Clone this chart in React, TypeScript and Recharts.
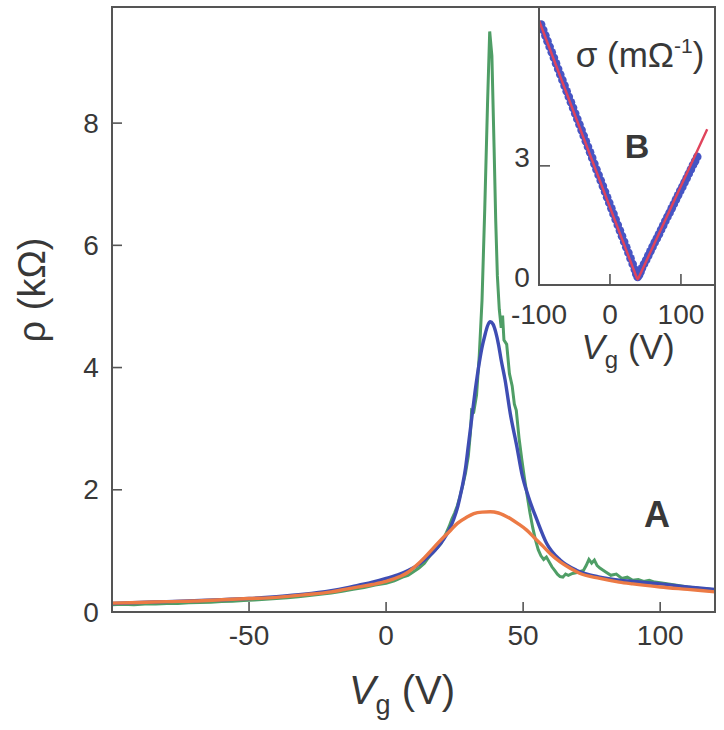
import React from 'react';
import { LineChart, Line, XAxis, YAxis } from 'recharts';

const FONT = '"Liberation Sans", Arial, Helvetica, sans-serif';
const TEXT = '#383838';
const AXIS = '#555555';

// Panel A: resistivity rho (kOhm) vs gate voltage Vg (V)
const mainTicksX = [-50, 0, 50, 100];
const mainTicksY = [0, 2, 4, 6, 8];

const measuredRho: [number, number][] = [
  [-100, 0.12], [-96, 0.125], [-92, 0.12], [-88, 0.13], [-84, 0.13], [-80, 0.14], [-76, 0.14], [-72, 0.15],
  [-68, 0.155], [-64, 0.16], [-60, 0.17], [-56, 0.175], [-52, 0.19], [-48, 0.195], [-44, 0.21], [-40, 0.22],
  [-36, 0.235], [-32, 0.25], [-28, 0.27], [-24, 0.29], [-20, 0.31], [-16, 0.34], [-12, 0.37], [-8, 0.4],
  [-4, 0.44], [0, 0.47], [3, 0.51], [6, 0.57], [8, 0.6], [10, 0.66], [12, 0.72], [14, 0.8], [15, 0.86],
  [16, 0.92], [18, 1.02], [20, 1.12], [22, 1.3], [23, 1.4], [24, 1.52], [25, 1.62], [26, 1.74], [27, 1.9],
  [28, 2.08], [29, 2.28], [30, 2.55], [30.8, 2.95], [31.2, 3.3], [32, 3.28], [33, 3.55], [34, 4.2], [35, 5.1],
  [36, 6.6], [37, 8.3], [37.8, 9.5], [38.6, 9.1], [39.4, 7.6], [40, 6.4], [40.6, 5.5], [41.3, 4.95], [42, 4.65],
  [42.5, 4.85], [43, 4.45], [44, 4.38], [45, 3.9], [46, 3.7], [46.8, 3.4], [47.5, 3.3], [48.5, 2.85], [49.5, 2.5],
  [50.5, 2.18], [51.5, 1.9], [52.5, 1.62], [53.5, 1.38], [54.5, 1.18], [55.5, 1.02], [56.5, 0.92], [57.5, 0.86],
  [58.5, 0.9], [59.5, 0.82], [60.5, 0.74], [61.5, 0.68], [62.5, 0.62], [63.5, 0.58], [64.5, 0.57], [65.5, 0.62],
  [66.5, 0.6], [68, 0.63], [70, 0.65], [72, 0.68], [73, 0.76], [74, 0.86], [75, 0.8], [76, 0.85], [77, 0.76],
  [78, 0.72], [80, 0.66], [82, 0.6], [84, 0.62], [86, 0.55], [88, 0.57], [90, 0.52], [92, 0.53], [94, 0.5],
  [96, 0.52], [98, 0.49], [100, 0.48], [103, 0.46], [106, 0.44], [110, 0.41], [114, 0.39], [117, 0.38], [120, 0.36],
];

const sharpFitRho: [number, number][] = [
  [-100, 0.14], [-90, 0.155], [-80, 0.17], [-70, 0.185], [-60, 0.2], [-50, 0.22], [-40, 0.25], [-30, 0.29],
  [-20, 0.35], [-15, 0.39], [-10, 0.44], [-5, 0.49], [0, 0.55], [5, 0.62], [8, 0.68], [11, 0.75], [14, 0.85],
  [17, 0.97], [19, 1.07], [21, 1.19], [23, 1.34], [24.6, 1.51], [26, 1.7], [27, 1.89], [28, 2.1], [29, 2.36],
  [30, 2.72], [31, 3.08], [32.5, 3.62], [34, 4.08], [35, 4.33], [36, 4.52], [37, 4.68], [38, 4.75], [39, 4.71],
  [40, 4.58], [41, 4.38], [42, 4.12], [43.4, 3.8], [45.3, 3.25], [47.7, 2.71], [49.5, 2.27], [51.9, 1.89],
  [55, 1.51], [58.6, 1.12], [63.5, 0.85], [69.6, 0.68], [78, 0.57], [85, 0.52], [90, 0.5], [100, 0.46],
  [110, 0.41], [120, 0.37],
];

const broadFitRho: [number, number][] = [
  [-100, 0.145], [-90, 0.155], [-80, 0.17], [-70, 0.18], [-60, 0.2], [-50, 0.22], [-40, 0.24], [-30, 0.28],
  [-20, 0.33], [-15, 0.37], [-10, 0.41], [-5, 0.45], [0, 0.5], [5, 0.58], [8, 0.65], [11, 0.76], [14, 0.89],
  [17.3, 1.05], [20, 1.18], [23.4, 1.33], [26, 1.45], [29.4, 1.55], [32, 1.61], [35, 1.635], [38, 1.64], [41, 1.62],
  [45.3, 1.53], [48, 1.45], [51.3, 1.34], [54, 1.22], [57.4, 1.07], [60, 0.95], [63.5, 0.82], [67, 0.72],
  [70.8, 0.63], [78, 0.55], [85, 0.49], [90, 0.46], [100, 0.41], [110, 0.37], [120, 0.33],
];

// Panel B: conductivity sigma (mOhm^-1) vs Vg (V)
const insetTicksX = [-100, 0, 100];
const insetTicksY = [0, 3];

const sigmaPoints: [number, number][] = [
  [-97, 6.56], [-94, 6.42], [-91, 6.28], [-88, 6.14], [-85, 6.0], [-82, 5.86], [-79, 5.72], [-76, 5.58],
  [-73, 5.44], [-70, 5.3], [-67, 5.16], [-64, 5.02], [-61, 4.88], [-58, 4.74], [-55, 4.6], [-52, 4.46],
  [-49, 4.32], [-46, 4.18], [-43, 4.04], [-40, 3.9], [-37, 3.76], [-34, 3.62], [-31, 3.48], [-28, 3.34],
  [-25, 3.2], [-22, 3.05], [-19, 2.91], [-16, 2.77], [-13, 2.63], [-10, 2.49], [-7, 2.35], [-4, 2.21],
  [-1, 2.07], [2, 1.93], [5, 1.79], [8, 1.65], [11, 1.51], [14, 1.37], [17, 1.23], [20, 1.09], [23, 0.95],
  [26, 0.81], [29, 0.67], [32, 0.53], [35, 0.39], [37, 0.28], [39, 0.2], [41, 0.25], [43, 0.33], [45, 0.42],
  [48, 0.53], [51, 0.63], [54, 0.74], [57, 0.85], [60, 0.96], [63, 1.07], [66, 1.17], [69, 1.28], [72, 1.39],
  [75, 1.5], [78, 1.61], [81, 1.72], [84, 1.82], [87, 1.93], [90, 2.04], [93, 2.15], [96, 2.26], [99, 2.37],
  [102, 2.47], [105, 2.58], [108, 2.69], [111, 2.8], [114, 2.91], [117, 3.02], [120, 3.12], [123, 3.23],
];

const sigmaFit: [number, number][] = [
  [-100, 6.66], [38, 0.17], [39, 0.15], [40, 0.17], [137, 3.92],
];

const toRows = (arr: [number, number][]) => arr.map(([x, y]) => ({ x, y }));

const MainXTick = (props: any) => {
  const { x, y, payload } = props;
  return (
    <g>
      <line x1={x} x2={x} y1={y} y2={y - 10} stroke={AXIS} strokeWidth={1.6} />
      <text x={x} y={y + 23} textAnchor="middle" dominantBaseline="central" fontSize={28} fill={TEXT} fontFamily={FONT}>
        {payload.value}
      </text>
    </g>
  );
};

const MainYTick = (props: any) => {
  const { x, y, payload } = props;
  return (
    <g>
      <line x1={x} x2={x + 10} y1={y} y2={y} stroke={AXIS} strokeWidth={1.6} />
      <text x={x - 21} y={y} textAnchor="middle" dominantBaseline="central" fontSize={28} fill={TEXT} fontFamily={FONT}>
        {payload.value}
      </text>
    </g>
  );
};

const InsetXTick = (props: any) => {
  const { x, y, payload } = props;
  return (
    <g>
      <line x1={x} x2={x} y1={y} y2={y - 11} stroke={AXIS} strokeWidth={1.6} />
      <text x={x} y={y + 29} textAnchor="middle" dominantBaseline="central" fontSize={28} fill={TEXT} fontFamily={FONT}>
        {payload.value}
      </text>
    </g>
  );
};

const InsetYTick = (props: any) => {
  const { x, y, payload } = props;
  return (
    <g>
      <line x1={x} x2={x + 11} y1={y} y2={y} stroke={AXIS} strokeWidth={1.6} />
      <text x={x - 17} y={y - 8} textAnchor="middle" dominantBaseline="central" fontSize={28} fill={TEXT} fontFamily={FONT}>
        {payload.value}
      </text>
    </g>
  );
};

const Dot = (props: any) => {
  const { cx, cy, index } = props;
  if (cx == null || cy == null) return <g key={`d${index}`} />;
  return <circle key={`d${index}`} cx={cx} cy={cy} r={4.3} fill="#4655c4" />;
};

const abs = (left: number, top: number, extra: React.CSSProperties = {}): React.CSSProperties => ({
  position: 'absolute',
  left,
  top,
  transform: 'translate(-50%, -50%)',
  whiteSpace: 'nowrap',
  lineHeight: 1,
  color: TEXT,
  fontFamily: FONT,
  ...extra,
});

export default function App() {
  const insetMargin = { top: 7, right: 9, left: 0, bottom: 0 };
  return (
    <div style={{ position: 'absolute', left: 0, top: 0, width: 724, height: 730, background: '#fff', overflow: 'hidden' }}>
      <div style={{ position: 'absolute', left: 0, top: 0 }}>
        <LineChart width={724} height={730} margin={{ top: 7, right: 9, left: 52, bottom: 78 }}>
          <XAxis
            type="number"
            dataKey="x"
            domain={[-100, 120]}
            ticks={mainTicksX}
            allowDataOverflow
            axisLine={false}
            tickLine={false}
            tickSize={0}
            tickMargin={0}
            height={40}
            tick={<MainXTick />}
          />
          <YAxis
            type="number"
            domain={[0, 9.9]}
            ticks={mainTicksY}
            allowDataOverflow
            axisLine={false}
            tickLine={false}
            tickSize={0}
            tickMargin={0}
            width={60}
            tick={<MainYTick />}
          />
          <Line data={toRows(measuredRho)} dataKey="y" type="linear" stroke="#4f9e66" strokeWidth={3} dot={false} isAnimationActive={false} />
          <Line data={toRows(sharpFitRho)} dataKey="y" type="monotone" stroke="#3e4db3" strokeWidth={3.4} dot={false} isAnimationActive={false} />
          <Line data={toRows(broadFitRho)} dataKey="y" type="monotone" stroke="#ec7a45" strokeWidth={3.4} dot={false} isAnimationActive={false} />
        </LineChart>
      </div>

      {/* main frame */}
      <div style={{ position: 'absolute', left: 111, top: 6, width: 605, height: 607, boxSizing: 'border-box', border: `2px solid ${AXIS}` }} />

      {/* inset background */}
      <div style={{ position: 'absolute', left: 540, top: 8, width: 174, height: 276, background: '#fff' }} />

      {/* inset: data points with axes */}
      <div style={{ position: 'absolute', left: 499, top: 0 }}>
        <LineChart width={225} height={330} margin={insetMargin}>
          <XAxis
            type="number"
            dataKey="x"
            domain={[-100, 148]}
            ticks={insetTicksX}
            allowDataOverflow
            axisLine={false}
            tickLine={false}
            tickSize={0}
            tickMargin={0}
            height={45}
            tick={<InsetXTick />}
          />
          <YAxis
            type="number"
            domain={[0, 7]}
            ticks={insetTicksY}
            allowDataOverflow
            axisLine={false}
            tickLine={false}
            tickSize={0}
            tickMargin={0}
            width={40}
            tick={<InsetYTick />}
          />
          <Line data={toRows(sigmaPoints)} dataKey="y" type="linear" stroke="none" dot={<Dot />} activeDot={false} isAnimationActive={false} />
        </LineChart>
      </div>

      {/* inset: fit line drawn on top of the points, same geometry */}
      <div style={{ position: 'absolute', left: 499, top: 0, pointerEvents: 'none' }}>
        <LineChart width={225} height={330} margin={insetMargin}>
          <XAxis type="number" dataKey="x" domain={[-100, 148]} ticks={insetTicksX} allowDataOverflow axisLine={false} tickLine={false} tick={false} height={45} />
          <YAxis type="number" domain={[0, 7]} ticks={insetTicksY} allowDataOverflow axisLine={false} tickLine={false} tick={false} width={40} />
          <Line data={toRows(sigmaFit)} dataKey="y" type="linear" stroke="#e0445c" strokeWidth={2.4} dot={false} isAnimationActive={false} />
        </LineChart>
      </div>

      {/* inset frame (left and bottom) */}
      <div style={{ position: 'absolute', left: 538, top: 6, width: 178, height: 280, boxSizing: 'border-box', borderLeft: `2px solid ${AXIS}`, borderBottom: `2px solid ${AXIS}` }} />

      {/* axis titles and panel letters */}
      <div style={abs(402, 690, { fontSize: 40 })}>
        <span style={{ fontStyle: 'italic' }}>V</span>
        <span style={{ fontSize: 27, position: 'relative', top: 10 }}>g</span>
        <span> (V)</span>
      </div>
      <div style={abs(32, 290, { fontSize: 38, transform: 'translate(-50%, -50%) rotate(-90deg)' })}>ρ (kΩ)</div>
      <div style={abs(657, 515, { fontSize: 36, fontWeight: 'bold' })}>A</div>

      <div style={abs(628, 346, { fontSize: 35 })}>
        <span style={{ fontStyle: 'italic' }}>V</span>
        <span style={{ fontSize: 24, position: 'relative', top: 9 }}>g</span>
        <span> (V)</span>
      </div>
      <div style={abs(640, 54, { fontSize: 35 })}>
        σ (mΩ<span style={{ fontSize: 21, position: 'relative', top: -14 }}>-1</span>)
      </div>
      <div style={abs(637, 146, { fontSize: 34, fontWeight: 'bold' })}>B</div>
    </div>
  );
}
